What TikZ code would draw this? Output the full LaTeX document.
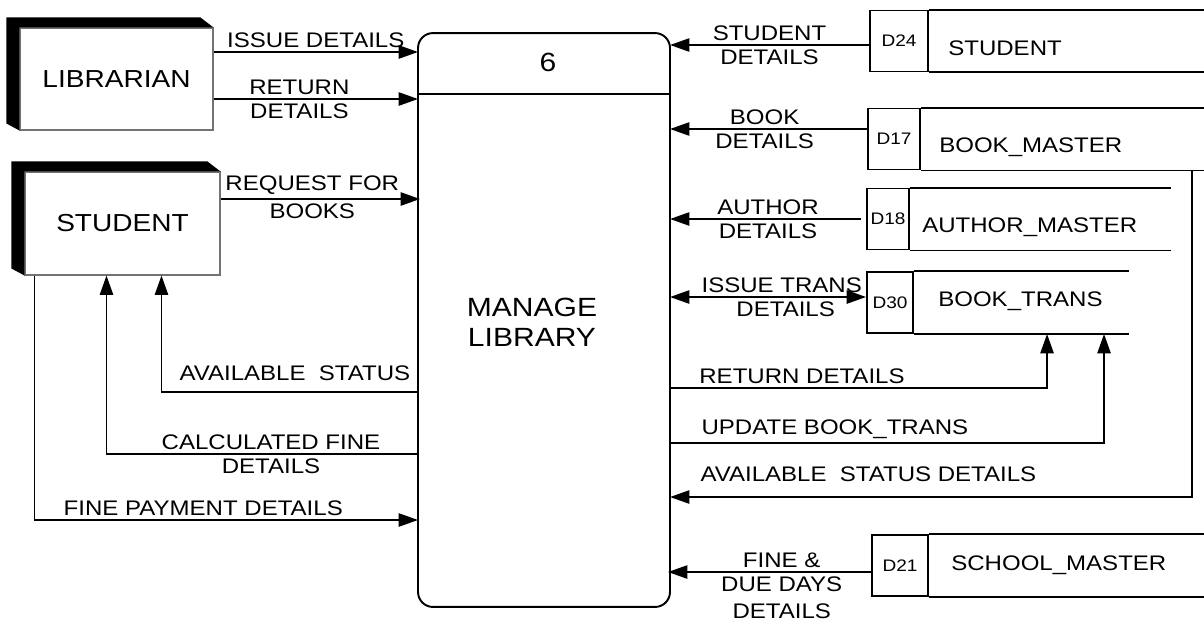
\documentclass[tikz,border=0pt]{standalone}
\usepackage{fontspec}
\setmainfont{Liberation Sans}[FakeStretch=1.14]
\usetikzlibrary{arrows.meta,calc,positioning}

\begin{document}
\begin{tikzpicture}[
  x=0.02cm, y=-0.02cm,
  font=\fontsize{12}{15.5}\selectfont,
  ext/.style={draw=black!55, line width=0.6pt, fill=white, inner sep=0pt,
    minimum width=3.86cm, minimum height=2.04cm, font=\fontsize{14}{16}\selectfont},
  prc/.style={draw, line width=1.1pt, rounded corners=8.5pt,
    minimum width=5.04cm, minimum height=11.48cm},
  dsid/.style={draw, line width=1.1pt, minimum height=1.22cm, inner sep=0pt,
    font=\fontsize{9.5}{11}\selectfont},
  dsname/.style={inner sep=0pt},
  ln/.style={line width=1.1pt},
  lbl/.style={inner sep=2pt, align=center},
  ar/.style={ln, -{Triangle[length=11pt, width=7.5pt]}},
  ar2/.style={ln, {Triangle[length=11pt, width=7.5pt]}-{Triangle[length=11pt, width=7.5pt]}}
]
  \useasboundingbox (0,0) rectangle (1204,623);

  % external entities
  \node[ext] (lib) at (116.5,79) {LIBRARIAN};
  \node[ext, minimum width=3.9cm, minimum height=2.06cm] (stu) at (122.5,223.5) {STUDENT};
  \fill ($(lib.south west)+(-13,-7)$) -- (lib.south west) -- (lib.north west) -- (lib.north east)
    -- ($(lib.north east)+(-13,-10)$) -- ($(lib.north west)+(-13,-10)$) -- cycle;
  \fill ($(stu.south west)+(-13,-7)$) -- (stu.south west) -- (stu.north west) -- (stu.north east)
    -- ($(stu.north east)+(-13,-10)$) -- ($(stu.north west)+(-13,-10)$) -- cycle;

  % process
  \node[prc] (proc) at (544,320) {};
  \draw[ln] ($(proc.north west)+(0,62)$) -- ($(proc.north east)+(0,62)$);
  \node[font=\fontsize{15}{17}\selectfont] (pnum) at (548,62) {6};
  \node[align=center, font=\fontsize{15}{17}\selectfont] (pname) at (532,322) {MANAGE\\LIBRARY};

  % data stores
  \node[dsid, minimum width=1.16cm] (d24) at (899,41) {D24};
  \node[dsname, right=0.38cm of d24.east, yshift=-4pt] (n24) {STUDENT};
  \node[dsid, minimum width=1.04cm] (d17) at (894,139) {D17};
  \node[dsname, right=0.36cm of d17.east, yshift=-4.5pt] (n17) {BOOK\_MASTER};
  \node[dsid, minimum width=0.84cm] (d18) at (888,219) {D18};
  \node[dsname, right=0.24cm of d18.east, yshift=-4.5pt] (n18) {AUTHOR\_MASTER};
  \node[dsid, minimum width=0.92cm] (d30) at (890,302.5) {D30};
  \node[dsname, right=0.48cm of d30.east, yshift=1pt] (n30) {BOOK\_TRANS};
  \node[dsid, minimum width=1.12cm] (d21) at (900,565.5) {D21};
  \node[dsname, right=0.44cm of d21.east] (n21) {SCHOOL\_MASTER};
  \draw[ln] (d24.north east) -- ++(276,0);
  \draw[ln] (d24.south east) -- ++(276,0);
  \draw[ln] (d17.north east) -- ++(284,0);
  \draw[ln] (d17.south east) -- ++(284,0);
  \draw[ln] (d18.north east) -- ++(261,0);
  \draw[ln] (d18.south east) -- ++(261,0);
  \draw[ln] (d30.north east) -- ++(215,0);
  \draw[ln] (d30.south east) -- ++(215,0);
  \draw[ln] (d21.north east) -- ++(276,0);
  \draw[ln] (d21.south east) -- ++(276,0);

  % flow points on the process box
  \coordinate (iss) at (418,52);
  \coordinate (ret) at (418,99);
  \coordinate (req) at (420,199);
  \coordinate (avst) at (418,392);
  \coordinate (cfine) at (418,454);
  \coordinate (fpay) at (418,520);
  \coordinate (stdet) at (670,45);
  \coordinate (bkdet) at (670,129);
  \coordinate (audet) at (670,219);
  \coordinate (itdet) at (670,297);
  \coordinate (rdet) at (670,388);
  \coordinate (upd) at (670,443);
  \coordinate (avdet) at (670,497);
  \coordinate (fdue) at (668,572);

  % left flows
  \draw[ar] (lib.east |- iss) -- (iss) node[lbl, midway, above] {ISSUE DETAILS};
  \draw[ar] (lib.east |- ret) -- (ret) node[lbl, pos=0.42, above] {RETURN}
    node[lbl, pos=0.42, below] {DETAILS};
  \draw[ar] (stu.east |- req) -- (req) node[lbl, pos=0.46, above] {REQUEST FOR}
    node[lbl, pos=0.46, below] {BOOKS};
  \draw[ar] (avst) -| ($(stu.south west)+(137,0)$)
    node[lbl, pos=0.24, above=4pt] {AVAILABLE\ \ STATUS};
  \draw[ar] (cfine) -| ($(stu.south west)+(82,0)$)
    node[lbl, pos=0.236, above] {CALCULATED FINE}
    node[lbl, pos=0.236, below] {DETAILS};
  \draw[ar] ($(stu.south west)+(10,0)$) |- (fpay)
    node[lbl, pos=0.72, above] {FINE PAYMENT DETAILS};

  % right flows
  \draw[ar] (d24.west |- stdet) -- (stdet) node[lbl, midway, above] {STUDENT}
    node[lbl, midway, below] {DETAILS};
  \draw[ar] (d17.west |- bkdet) -- (bkdet) node[lbl, pos=0.52, above] {BOOK}
    node[lbl, pos=0.52, below] {DETAILS};
  \draw[ar, shorten <=3pt] (d18.west |- audet) -- (audet) node[lbl, midway, above] {AUTHOR}
    node[lbl, midway, below] {DETAILS};
  \draw[ar2] (itdet) -- (d30.west |- itdet) node[lbl, pos=0.57, above] {ISSUE TRANS}
    node[lbl, pos=0.59, below] {DETAILS};
  \draw[ar] (rdet) -| ($(d30.south west)+(181,0)$)
    node[lbl, pos=0.175, above] {RETURN DETAILS};
  \draw[ar] (upd) -| ($(d30.south west)+(238,0)$)
    node[lbl, pos=0.19, above] {UPDATE BOOK\_TRANS};
  \draw[ar] ($(d17.south west)+(325,0)$) |- (avdet)
    node[lbl, pos=0.81, above=6pt] {AVAILABLE\ \ STATUS DETAILS};
  \draw[ar] (d21.west |- fdue) -- (fdue) node[lbl, pos=0.44, above] {FINE \&}
    node[lbl, pos=0.44, below] {DUE DAYS\\DETAILS};
\end{tikzpicture}
\end{document}
